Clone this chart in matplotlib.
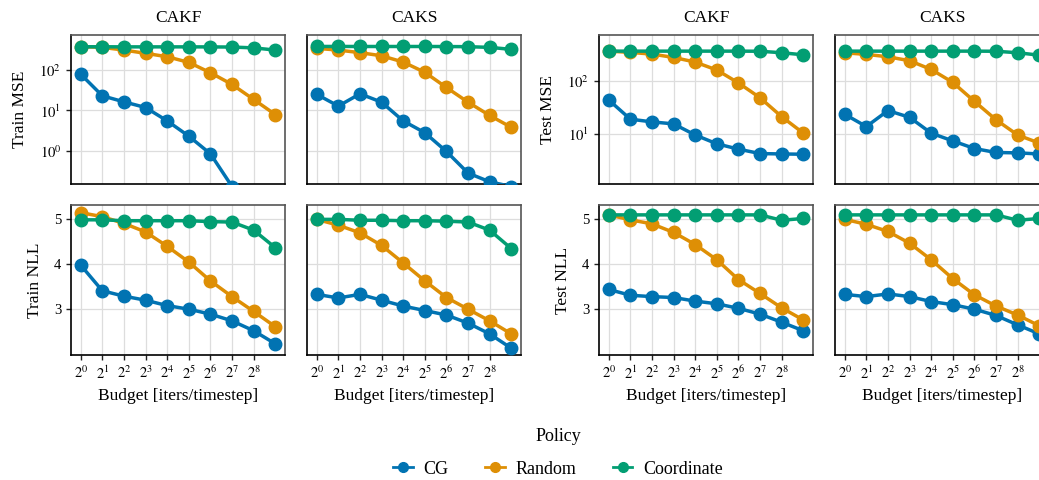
import numpy as np
import matplotlib
matplotlib.use("Agg")
import matplotlib.pyplot as plt
from matplotlib.lines import Line2D

plt.rcParams["font.family"] = ["Liberation Serif", "DejaVu Serif"]
plt.rcParams["mathtext.fontset"] = "stix"

# budgets 2^0 .. 2^9
budgets = [2 ** i for i in range(10)]
tick_labels = [f"$2^{{{i}}}$" for i in range(9)]
policies = ["CG", "Random", "Coordinate"]
colors = ["#0173B2", "#DE8F05", "#029E73"]
methods = ["CAKF", "CAKS"]

# Train MSE
train_mse_cakf_cg = [79, 23, 16.3, 11.8, 5.5, 2.3, 0.84, 0.13, 0.03, 0.01]
train_mse_cakf_random = [380, 365, 313, 260, 214, 155, 86, 44, 18.7, 7.9]
train_mse_cakf_coord = [378, 378, 376, 376, 376, 376, 375, 372, 355, 313]
train_mse_caks_cg = [25, 12.8, 25.8, 16, 5.5, 2.8, 0.96, 0.28, 0.17, 0.13]
train_mse_caks_random = [345, 313, 270, 226, 158, 88, 37, 16, 7.5, 3.8]
train_mse_caks_coord = [385, 385, 384, 384, 384, 384, 383, 380, 365, 326]

# Test MSE
test_mse_cakf_cg = [43.6, 18.8, 16.7, 15.3, 9.4, 6.4, 5.06, 4.17, 4.1, 4.05]
test_mse_cakf_random = [370, 350, 325, 281, 229, 162, 92, 48, 21, 10.2]
test_mse_cakf_coord = [370, 370, 370, 370, 370, 370, 370, 368, 345, 315]
test_mse_caks_cg = [23.3, 13.6, 27.4, 20.4, 10.2, 7.25, 5.2, 4.37, 4.3, 4.1]
test_mse_caks_random = [344, 321, 289, 243, 166, 94, 41, 18.3, 9.4, 6.6]
test_mse_caks_coord = [370, 370, 370, 370, 370, 370, 370, 368, 345, 310]

# Train NLL
train_nll_cakf_cg = [3.98, 3.41, 3.29, 3.20, 3.08, 3.00, 2.89, 2.74, 2.52, 2.23]
train_nll_cakf_random = [5.15, 5.06, 4.91, 4.72, 4.40, 4.05, 3.63, 3.28, 2.95, 2.61]
train_nll_cakf_coord = [4.99, 4.99, 4.97, 4.97, 4.97, 4.97, 4.95, 4.94, 4.76, 4.37]
train_nll_caks_cg = [3.33, 3.25, 3.33, 3.20, 3.07, 2.97, 2.87, 2.69, 2.45, 2.13]
train_nll_caks_random = [5.00, 4.87, 4.70, 4.42, 4.03, 3.63, 3.26, 3.00, 2.74, 2.45]
train_nll_caks_coord = [5.00, 5.00, 4.98, 4.98, 4.97, 4.97, 4.96, 4.94, 4.76, 4.35]

# Test NLL
test_nll_cakf_cg = [3.44, 3.31, 3.28, 3.26, 3.18, 3.12, 3.02, 2.89, 2.71, 2.52]
test_nll_cakf_random = [5.10, 4.99, 4.90, 4.71, 4.44, 4.10, 3.66, 3.35, 3.03, 2.76]
test_nll_cakf_coord = [5.10, 5.10, 5.10, 5.10, 5.10, 5.10, 5.10, 5.10, 4.98, 5.02]
test_nll_caks_cg = [3.33, 3.28, 3.34, 3.28, 3.17, 3.10, 3.00, 2.86, 2.65, 2.45]
test_nll_caks_random = [5.00, 4.89, 4.73, 4.47, 4.10, 3.68, 3.32, 3.07, 2.87, 2.63]
test_nll_caks_coord = [5.10, 5.10, 5.10, 5.10, 5.10, 5.10, 5.10, 5.10, 4.98, 5.02]

panels = [
    # (col, row, series, ylabel, log)
    (0, 0, [train_mse_cakf_cg, train_mse_cakf_random, train_mse_cakf_coord], "Train MSE", True),
    (1, 0, [train_mse_caks_cg, train_mse_caks_random, train_mse_caks_coord], None, True),
    (2, 0, [test_mse_cakf_cg, test_mse_cakf_random, test_mse_cakf_coord], "Test MSE", True),
    (3, 0, [test_mse_caks_cg, test_mse_caks_random, test_mse_caks_coord], None, True),
    (0, 1, [train_nll_cakf_cg, train_nll_cakf_random, train_nll_cakf_coord], "Train NLL", False),
    (1, 1, [train_nll_caks_cg, train_nll_caks_random, train_nll_caks_coord], None, False),
    (2, 1, [test_nll_cakf_cg, test_nll_cakf_random, test_nll_cakf_coord], "Test NLL", False),
    (3, 1, [test_nll_caks_cg, test_nll_caks_random, test_nll_caks_coord], None, False),
]

W, H = 1039, 480
fig = plt.figure(figsize=(W / 100, H / 100), dpi=100)

col_left = [71, 307, 599, 835]
col_w = 214
row_top = [35, 205]
row_h = [149, 150]

ylims = {0: (0.15, 740), 1: (0.15, 740), 2: (1.1, 750), 3: (1.1, 750)}
FS = 12.5

for col, row, series, ylabel, logy in panels:
    rect = [col_left[col] / W, 1 - (row_top[row] + row_h[row]) / H, col_w / W, row_h[row] / H]
    ax = fig.add_axes(rect)
    for ys, c in zip(series, colors):
        ax.plot(budgets, ys, color=c, lw=2.5, marker="o", ms=9, zorder=3)
    ax.set_xscale("log", base=2)
    ax.set_xticks(budgets[:9])
    ax.minorticks_off()
    if logy:
        ax.set_yscale("log")
        ax.set_ylim(*ylims[col])
        ax.minorticks_off()
        if col < 2:
            ax.set_yticks([1, 10, 100])
            ax.set_yticklabels(["$10^{0}$", "$10^{1}$", "$10^{2}$"])
        else:
            ax.set_yticks([10, 100])
            ax.set_yticklabels(["$10^{1}$", "$10^{2}$"])
    else:
        ax.set_ylim(1.98, 5.32)
        ax.set_yticks([3, 4, 5])
    ax.tick_params(labelsize=10.5, length=3.5, width=1, color="#222222")
    if row == 1:
        ax.set_xticklabels(tick_labels)
        ax.set_xlabel("Budget [iters/timestep]", fontsize=FS)
    else:
        ax.set_xticklabels([])
        ax.tick_params(axis="x", length=0)
        ax.set_title(methods[col % 2], fontsize=FS, pad=9)
    if ylabel:
        ax.set_ylabel(ylabel, fontsize=FS, labelpad=8)
    else:
        ax.set_yticklabels([])
        ax.tick_params(axis="y", length=0)
    ax.grid(True, color="#dddddd", lw=0.9)
    ax.set_axisbelow(True)
    for s in ["left", "bottom"]:
        ax.spines[s].set_color("black")
        ax.spines[s].set_linewidth(1.2)
    for s in ["top", "right"]:
        ax.spines[s].set_color("#555555")
        ax.spines[s].set_linewidth(1.2)

handles = [Line2D([], [], color=c, lw=2, marker="o", ms=7) for c in colors]
fig.legend(handles, policies, title="Policy", ncol=3, frameon=False,
           loc="upper center", bbox_to_anchor=(558 / W, 1 - 421 / H),
           fontsize=13, title_fontsize=13, handlelength=1.1, handletextpad=0.6,
           labelspacing=0.85, columnspacing=2.0, borderaxespad=0)

fig.savefig("out.png", dpi=100)
